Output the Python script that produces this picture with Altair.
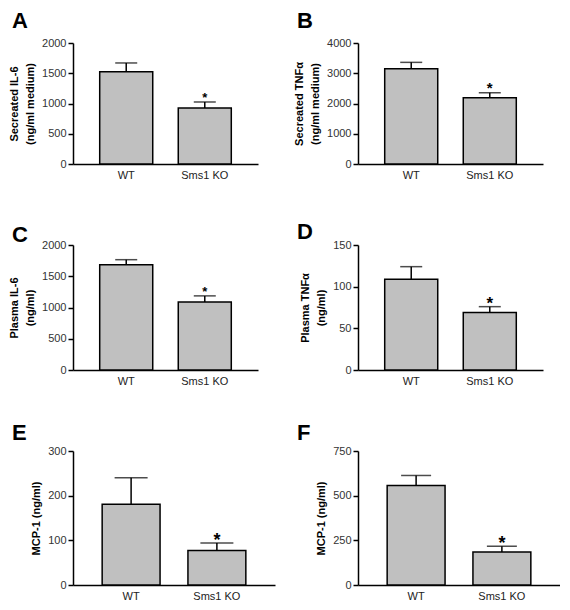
import altair as alt
import pandas as pd

groups = ["WT", "Sms1 KO"]
sig = ["", "*"]

a_mean = [1525, 925]
a_err = [145, 100]
b_mean = [3150, 2190]
b_err = [210, 165]
c_mean = [1683, 1087]
c_err = [82, 99]
d_mean = [109, 69]
d_err = [15, 7]
e_mean = [181, 77]
e_err = [59, 17]
f_mean = [557, 185]
f_err = [56, 32]

a_ticks = [0, 500, 1000, 1500, 2000]
b_ticks = [0, 1000, 2000, 3000, 4000]
c_ticks = [0, 500, 1000, 1500, 2000]
d_ticks = [0, 50, 100, 150]
e_ticks = [0, 100, 200, 300]
f_ticks = [0, 250, 500, 750]

FONT = "Liberation Sans"


def panel(letter, means, errs, title, ticks, w, h, cap, star_size, star_dy, letter_offset, letter_dy):
    df = pd.DataFrame({
        "group": groups,
        "mean": means,
        "upper": [m + e for m, e in zip(means, errs)],
        "sig": sig,
    })
    x = alt.X(
        "group:N", sort=groups,
        scale=alt.Scale(paddingInner=0.325, paddingOuter=0.34),
        axis=alt.Axis(title=None, labelAngle=0, ticks=False, domainColor="black",
                      domainWidth=1.5, labelFontSize=11, labelPadding=5,
                      labelColor="#222", labelFont=FONT),
    )
    y_axis = alt.Axis(title=title, values=ticks, format="d", grid=False, domainColor="black",
                      domainWidth=1.5, tickColor="black", tickWidth=1.5, tickSize=5,
                      labelFontSize=11, labelColor="#333", labelFont=FONT,
                      labelPadding=2, labelOverlap=False, titleFont=FONT, titleFontSize=11,
                      titleFontWeight="bold", titleColor="black", titlePadding=6,
                      titleLineHeight=16)
    y_scale = alt.Scale(domain=[ticks[0], ticks[-1]], nice=False)

    def yenc(field):
        return alt.Y(field, type="quantitative", scale=y_scale, axis=y_axis)

    bars = alt.Chart(df).mark_bar(color="#c0c0c0", stroke="black", strokeWidth=1.5).encode(
        x=x, y=yenc("mean"))
    rule = alt.Chart(df).mark_rule(color="black", strokeWidth=1.5).encode(
        x=x, y=yenc("mean"), y2="upper:Q")
    caps = alt.Chart(df).mark_tick(color="black", thickness=1.5, size=cap).encode(
        x=x, y=yenc("upper"))
    star = alt.Chart(df).mark_text(fontSize=star_size, font=FONT, fontWeight="bold",
                                   baseline="alphabetic", dy=star_dy, color="black").encode(
        x=x, y=yenc("upper"), text="sig:N")
    return alt.layer(bars, rule, caps, star).properties(
        width=w, height=h,
        title=alt.TitleParams(letter, anchor="start", frame="group", dx=-61, dy=letter_dy,
                              fontSize=22, fontWeight="bold", font=FONT, color="black",
                              offset=letter_offset),
    )


pa = panel("A", a_mean, a_err, ["Secreated IL-6", "(ng/ml medium)"], a_ticks, 185, 121, 22, 13, 0, 4, 0)
pb = panel("B", b_mean, b_err, ["Secreated TNFα", "(ng/ml medium)"], b_ticks, 185, 121, 22, 15, 0, 4, 0)
pc = panel("C", c_mean, c_err, ["Plasma IL-6", "(ng/ml)"], c_ticks, 185, 125, 22, 13, 0, 0, 8)
pd_ = panel("D", d_mean, d_err, ["Plasma TNFα", "(ng/ml)"], d_ticks, 185, 125, 22, 17, 2, 0, 5)
pe = panel("E", e_mean, e_err, "MCP-1 (ng/ml)", e_ticks, 202, 134, 33, 18, 3, 0, 0)
pf = panel("F", f_mean, f_err, "MCP-1 (ng/ml)", f_ticks, 202, 134, 30, 18, 3, 0, 0)

chart = alt.concat(
    pa, pb, pc, pd_, pe, pf,
    columns=2, spacing={"row": 81, "column": 83}, bounds="flush",
).properties(
    padding={"left": 0, "top": 2, "right": 0, "bottom": 0},
    background="white",
).configure_view(stroke=None)

chart.save("out.html", embed_options={"renderer": "svg", "actions": False})
